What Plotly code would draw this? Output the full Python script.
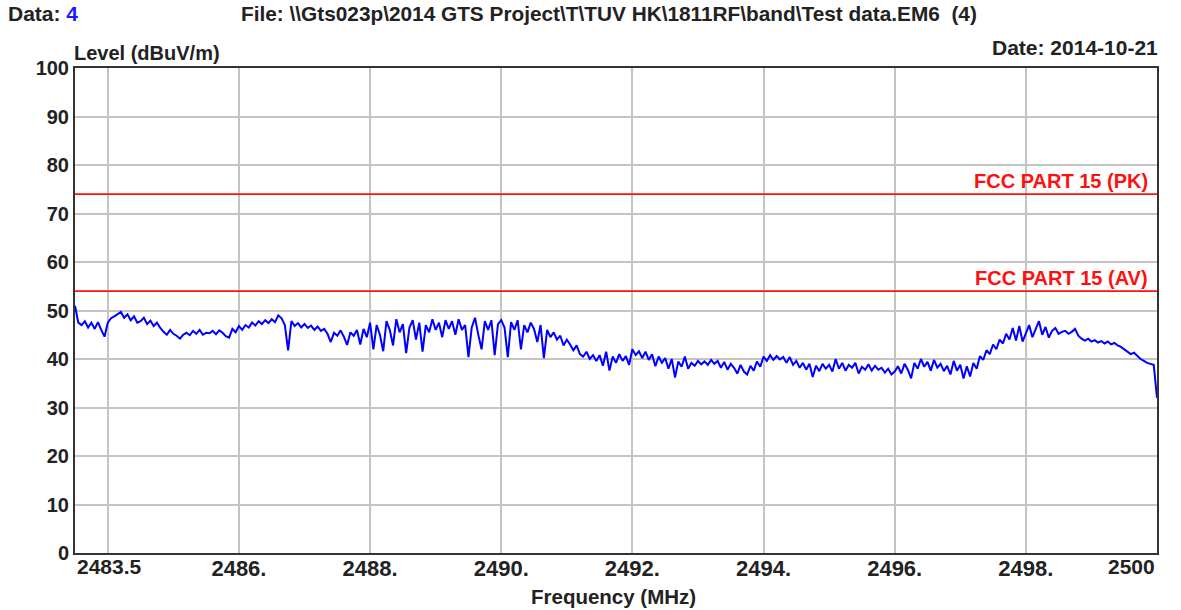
import numpy as np
import plotly.graph_objects as go

# ---------------- data ----------------
freq_start = 2483.5      # MHz
freq_stop = 2500.0       # MHz
freq_step = 0.05         # MHz

levels = [
    # 2483.50 - 2484.45
    51.0, 47.5, 47.0, 47.8, 46.5, 47.5, 46.2, 47.6, 46.0, 44.6,
    47.5, 48.4, 48.8, 49.2, 49.7, 48.5, 49.2, 48.0, 48.8, 47.5,
    # 2484.50 - 2485.45
    47.8, 48.5, 47.2, 47.9, 46.8, 47.5, 46.4, 45.6, 45.0, 46.0,
    45.2, 44.8, 44.2, 45.0, 45.4, 44.9, 45.8, 45.2, 46.0, 45.0,
    # 2485.50 - 2486.45
    45.4, 45.3, 45.8, 45.1, 45.9, 45.4, 44.7, 44.4, 46.2, 45.5,
    46.8, 46.0, 47.0, 46.5, 47.5, 46.9, 47.8, 47.2, 48.0, 47.4,
    # 2486.50 - 2487.45
    48.2, 47.6, 49.0, 48.4, 47.0, 41.8, 47.8, 46.8, 47.4, 46.5,
    47.2, 46.4, 46.9, 46.0, 46.7, 45.8, 46.2, 45.2, 43.5, 45.4,
    # 2487.50 - 2488.45
    44.8, 45.9, 44.6, 42.9, 45.5, 44.8, 46.0, 43.0, 46.2, 44.5,
    47.5, 42.0, 47.0, 45.0, 41.6, 47.8, 46.0, 42.8, 48.2, 45.5,
    # 2488.50 - 2489.45
    47.2, 41.2, 46.5, 48.0, 44.0, 47.5, 41.5, 47.0, 45.5, 48.2,
    46.0, 47.5, 44.5, 48.0, 46.2, 47.8, 45.0, 48.2, 46.0, 47.0,
    # 2489.50 - 2490.45
    40.4, 46.5, 48.5, 45.0, 42.0, 47.8, 46.0, 48.0, 40.8, 47.2,
    48.0, 46.5, 40.4, 47.6, 46.0, 48.0, 42.0, 47.0, 45.5, 47.5,
    # 2490.50 - 2491.45
    46.2, 43.5, 47.0, 40.2, 46.0, 44.5, 45.5, 44.0, 44.8, 42.8,
    44.0, 43.0, 41.8, 42.8, 41.0, 40.5, 41.5, 40.0, 40.8, 39.6,
    # 2491.50 - 2492.45
    40.8, 38.6, 41.5, 37.6, 40.5, 39.2, 41.0, 39.6, 40.6, 38.8,
    42.0, 40.8, 41.6, 40.2, 41.5, 39.8, 41.0, 38.5, 40.5, 39.2,
    # 2492.50 - 2493.45
    40.2, 38.0, 40.0, 36.2, 39.5, 38.4, 40.5, 38.0, 39.2, 38.6,
    39.6, 38.9, 39.5, 38.8, 39.8, 39.0, 39.6, 38.2, 39.4, 37.8,
    # 2493.50 - 2494.45
    39.0, 38.2, 37.0, 38.8, 37.4, 36.8, 38.6, 37.6, 39.5, 38.4,
    40.5, 39.6, 40.8, 39.8, 40.6, 39.9, 40.4, 39.2, 40.4, 38.8,
    # 2494.50 - 2495.45
    39.6, 38.2, 39.2, 37.8, 39.0, 36.3, 38.6, 37.5, 39.0, 38.0,
    38.8, 37.4, 40.0, 38.0, 39.2, 37.6, 38.8, 38.2, 39.2, 37.0,
    # 2495.50 - 2496.45
    38.4, 37.8, 38.9, 37.6, 38.6, 37.8, 38.2, 37.2, 38.0, 36.8,
    37.4, 38.5, 37.0, 39.0, 37.8, 36.0, 39.2, 38.0, 40.0, 38.4,
    # 2496.50 - 2497.45
    39.4, 37.6, 39.8, 38.2, 39.0, 37.5, 38.6, 36.8, 39.6, 37.6,
    38.8, 36.0, 38.5, 36.4, 39.2, 38.0, 40.6, 39.8, 41.8, 41.0,
    # 2497.50 - 2498.45
    43.0, 42.0, 44.0, 43.2, 45.2, 44.0, 46.4, 43.8, 46.8, 43.6,
    45.5, 47.0, 44.5, 46.0, 47.8, 45.0, 46.6, 44.4, 45.8, 46.4,
    # 2498.50 - 2499.45
    45.2, 45.6, 45.8, 45.2, 45.6, 46.2, 44.8, 44.2, 43.8, 44.2,
    43.6, 43.9, 43.4, 43.7, 43.2, 43.6, 43.0, 43.3, 42.8, 42.5,
    # 2499.50 - 2500.00
    42.0, 41.5, 41.0, 41.3, 40.6, 40.0, 39.6, 39.2, 39.0, 38.8,
    32.0,
]

limit_pk = 74.0   # FCC PART 15 (PK)
limit_av = 54.0   # FCC PART 15 (AV)

x_grid_vals = [2484, 2486, 2488, 2490, 2492, 2494, 2496, 2498, 2500]
x_grid_text = ["", "2486.", "2488.", "2490.", "2492.", "2494.", "2496.", "2498.", ""]
x_start_label = "2483.5"
x_end_label = "2500"
y_tick_vals = [0, 10, 20, 30, 40, 50, 60, 70, 80, 90, 100]

freqs = freq_start + freq_step * np.arange(len(levels))

# ---------------- figure ----------------
FONT = "Liberation Sans, Arial, sans-serif"
DARK = "#222222"
RED = "#ff1010"

fig = go.Figure()

fig.add_trace(go.Scatter(
    x=freqs, y=levels, mode="lines",
    line=dict(color="#0000ff", width=2),
    showlegend=False, hoverinfo="x+y",
))
fig.add_trace(go.Scatter(
    x=[freq_start, freq_stop], y=[limit_pk, limit_pk], mode="lines",
    line=dict(color=RED, width=1.8), showlegend=False,
))
fig.add_trace(go.Scatter(
    x=[freq_start, freq_stop], y=[limit_av, limit_av], mode="lines",
    line=dict(color=RED, width=1.8), showlegend=False,
))

fig.update_layout(
    width=1181, height=610,
    margin=dict(l=75, r=24, t=68, b=57, autoexpand=False),
    paper_bgcolor="white", plot_bgcolor="white",
    font=dict(family=FONT, size=20, color=DARK, weight="bold"),
    showlegend=False,
)

fig.update_xaxes(
    range=[freq_start, freq_stop], automargin=False,
    tickvals=x_grid_vals, ticktext=x_grid_text,
    showgrid=True, gridcolor="#c4c4c4", gridwidth=1.5,
    showline=True, linecolor="#333333", linewidth=2, mirror=True,
    ticks="", zeroline=False,
    ticklabelstandoff=-5,
    tickfont=dict(family=FONT, size=22, color=DARK, weight="bold"),
)
fig.update_yaxes(
    range=[0, 100], automargin=False,
    tickvals=y_tick_vals,
    showgrid=True, gridcolor="#c4c4c4", gridwidth=1.5,
    showline=True, linecolor="#333333", linewidth=2, mirror=True,
    ticks="", zeroline=False,
    ticklabelstandoff=0,
    tickfont=dict(family=FONT, size=20, color=DARK, weight="bold"),
)

def note(text, x, y, xanchor="left", yanchor="middle", color=DARK, xref="paper", yref="paper", size=20):
    fig.add_annotation(
        text=text, x=x, y=y, xref=xref, yref=yref,
        xanchor=xanchor, yanchor=yanchor, showarrow=False,
        font=dict(family=FONT, size=size, color=color, weight="bold"),
    )

note("Data: <span style='color:#1a1aff'>4</span>", -0.064, 1.113, size=21)
note("File: \\\\Gts023p\\2014 GTS Project\\T\\TUV HK\\1811RF\\band\\Test data.EM6&nbsp;&nbsp;(4)", 0.152, 1.113, size=20.8)
note("Level (dBuV/m)", -0.003, 1.031, size=20)
note("Date: 2014-10-21", 1.003, 1.043, xanchor="right", size=21)
note("Frequency (MHz)", 0.498, -0.089, xanchor="center", size=20.5)
note("FCC PART 15 (PK)", 0.9935, limit_pk + 2.7, xanchor="right", color=RED, yref="y", size=20)
note("FCC PART 15 (AV)", 0.9935, limit_av + 2.7, xanchor="right", color=RED, yref="y", size=20)
# axis end labels (start / stop frequency)
note(x_start_label, freq_start, -0.028, xanchor="left", xref="x", size=21)
note(x_end_label, freq_stop, -0.028, xanchor="right", xref="x", size=21)

# remove the browser's default 8px page margin so the figure sits at the top-left corner
fig.write_html(
    "out.html",
    config={"displayModeBar": False},
    post_script="document.body.style.margin='0px';",
)
